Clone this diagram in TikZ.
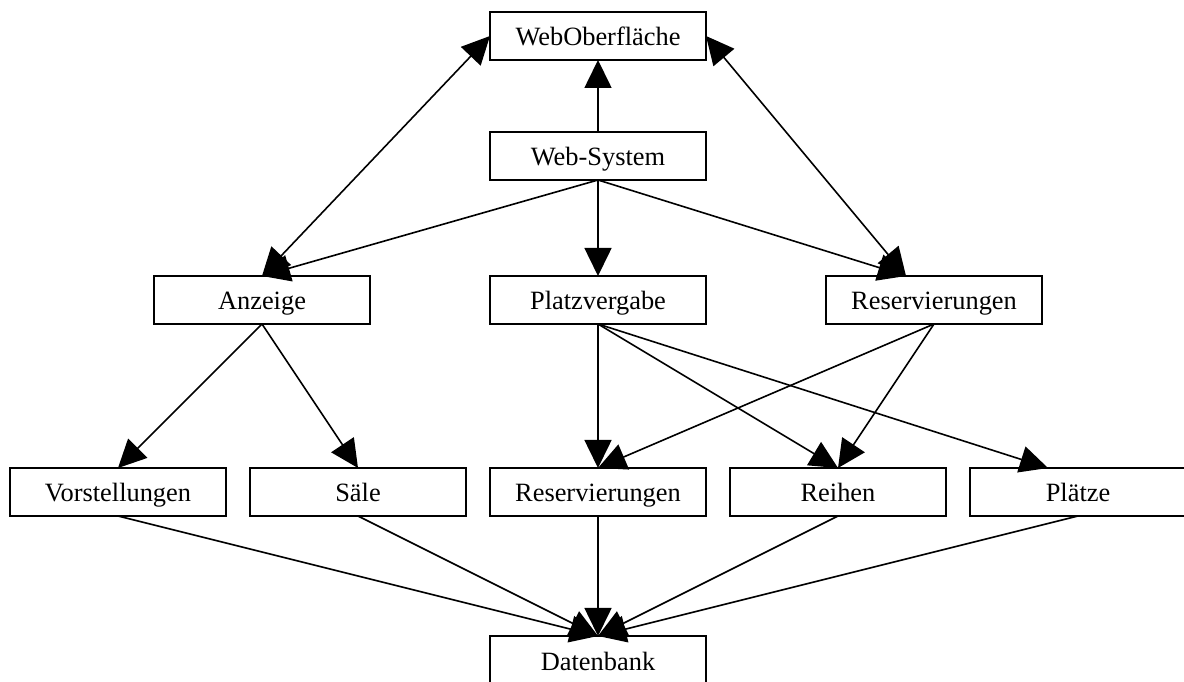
\documentclass[tikz,border=0pt]{standalone}
\usepackage{fontspec}
\setmainfont{Liberation Serif}
\usepackage{tkz-graph}
\usetikzlibrary{arrows.meta}

\begin{document}
\begin{tikzpicture}[x=60pt,y=60pt]
	\useasboundingbox (-0.9833,-0.1833) rectangle (8.8833,5.5);
	\tikzset{VertexStyle/.style = {draw, rectangle, line width=0.8pt, minimum width=108pt, minimum height=24pt, inner sep=0pt, text height=12pt, text depth=2pt, font=\fontsize{13.2}{15}\selectfont}}
	\tikzset{EdgeStyle/.style = {draw, line width=0.8pt, >={Triangle[length=14pt,width=13.5pt]}, ->}}
		\Vertex[x=4 ,y=5.2,L={WebOberfläche}]{wo}
		\Vertex[x=4 ,y=4.2,L={Web-System}]{ws}
		\Vertex[x=1.2 ,y=3,L={Anzeige}]{anz}
		\Vertex[x=4 ,y=3,L={Platzvergabe}]{pv}
		\Vertex[x=6.8 ,y=3,L={Reservierungen}]{rt}
		\Vertex[x=0 ,y=1.4,L={Vorstellungen}]{vs}
		\Vertex[x=2 ,y=1.4,L={Säle}]{sa}
		\Vertex[x=4 ,y=1.4,L={Reservierungen}]{rb}
		\Vertex[x=6 ,y=1.4,L={Reihen}]{rh}
		\Vertex[x=8 ,y=1.4,L={Plätze}]{pl}
		\Vertex[x=4 ,y=0,L={Datenbank}]{db}
	%	web system
		\Edge(ws.north)(wo.south)
		\Edge(ws.south)(anz.north)
		\Edge(ws.south)(pv.north)
		\Edge(ws.south)([xshift=-14pt]rt.north)
	%	middle row
		\Edge(anz.south)(vs.north)
		\Edge(anz.south)(sa.north)
		\Edge(pv.south)(rb.north)
		\Edge(pv.south)(rh.north)
		\Edge(pv.south)([xshift=-15pt]pl.north)
		\Edge(rt.south)(rb.north)
		\Edge(rt.south)(rh.north)
	%	database
		\Edge(vs.south)(db.north)
		\Edge(sa.south)(db.north)
		\Edge(rb.south)(db.north)
		\Edge(rh.south)(db.north)
		\Edge(pl.south)(db.north)
		\tikzset{EdgeStyle/.append style = {<->}}
		\Edge(wo.west)(anz.north)
		\Edge(wo.east)([xshift=-14pt]rt.north)
	\end{tikzpicture}
\end{document}
